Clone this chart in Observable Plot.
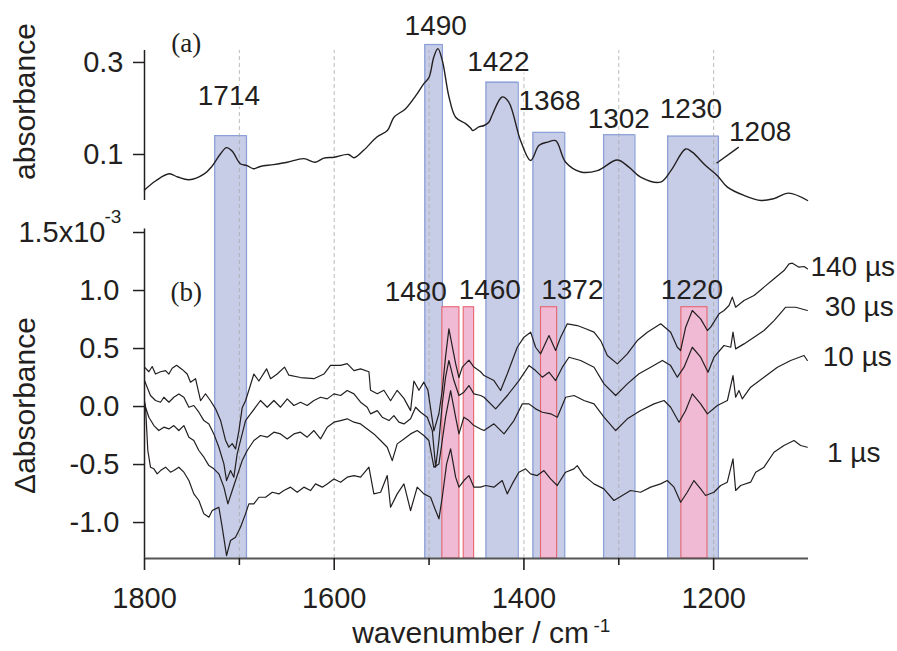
<!DOCTYPE html>
<html><head><meta charset="utf-8">
<script src="https://cdn.jsdelivr.net/npm/d3@7"></script>
<script src="https://cdn.jsdelivr.net/npm/@observablehq/plot@0.6"></script>
<style>
body{margin:0;background:#fff;}
#chart{position:relative;width:897px;height:651px;overflow:hidden;background:#fff;}
#chart svg{position:absolute;left:0;}
</style></head><body><div id="chart"></div>
<script>
// ---------- data ----------
const xDomain = [1800, 1100];
const xMajor = [1800, 1600, 1400, 1200];
const xMinor = [1700, 1500, 1300];
const gridWn = [1700, 1600, 1500, 1400, 1300, 1200];
const yTopTicks = [0.1, 0.3];
const yBotTicks = [1.5, 1.0, 0.5, 0.0, -0.5, -1.0];

// (a) absorbance spectrum
const absWn = [1800,1788,1774,1765,1753,1737,1729,1720,1713.5,1707.5,1699,1692,1685,1678,1664,1649.5,1632,1620,1611,1600,1585,1579,1569,1555,1544,1537,1525,1514,1505.5,1500,1495,1490.7,1486,1479,1472,1461.5,1456,1454,1447.5,1442,1437,1433,1423,1416,1403.5,1393,1384,1375,1366.5,1356,1340,1322.5,1301.5,1289,1277,1256,1245,1229.5,1222.5,1208.5,1196,1185.5,1168,1150,1136.5,1121,1101];
const absVal = [0.023,0.043,0.058,0.051,0.045,0.058,0.074,0.101,0.115,0.107,0.080,0.076,0.069,0.074,0.078,0.083,0.091,0.083,0.092,0.094,0.100,0.093,0.109,0.138,0.152,0.181,0.199,0.228,0.254,0.268,0.312,0.330,0.304,0.225,0.181,0.167,0.157,0.152,0.160,0.163,0.170,0.188,0.225,0.214,0.130,0.087,0.120,0.127,0.130,0.083,0.062,0.065,0.088,0.072,0.051,0.040,0.065,0.112,0.105,0.076,0.054,0.029,0.011,0.000,0.004,0.016,0.000];

// (b) transient difference spectra, [wavenumber, Δabsorbance x1e3]
const trace140 = [[1800,.34],[1795.4,.30],[1791.9,.345],[1788.4,.28],[1783.1,.30],[1777.8,.31],[1774.3,.28],[1770.8,.33],[1766.2,.355],[1760.3,.32],[1755,.28],[1751.5,.21],[1746.2,.24],[1740.9,.05],[1735.7,.11],[1730.4,.05],[1725.1,-.02],[1719.8,-.12],[1714.6,-.29],[1711.1,-.35],[1707.5,-.32],[1704,-.365],[1700.5,-.21],[1697,-.01],[1693.5,.05],[1690,.14],[1684.7,.28],[1679.4,.22],[1671.3,.325],[1667.1,.24],[1660.1,.28],[1652.4,.34],[1647.8,.27],[1635.5,.25],[1621.4,.24],[1610.9,.28],[1603.9,.355],[1593.3,.355],[1586.3,.37],[1579.2,.31],[1572.2,.325],[1563.4,.30],[1561.7,.14],[1554.6,.11],[1547.6,.14],[1540.6,.05],[1533.6,.14],[1526.5,.07],[1519.5,-.035],[1516,.22],[1510.7,.14],[1505.5,.21],[1501.2,.14],[1494.9,-.21],[1489.6,-.06],[1486.1,.14],[1482.6,.43],[1479.1,.67],[1472,.37],[1468.5,.25],[1465,.34],[1458,.40],[1452.7,.34],[1445.7,.30],[1442.1,.267],[1431.6,.224],[1424.6,.138],[1417.5,.282],[1407,.511],[1400,.598],[1392.9,.641],[1387.7,.511],[1382.4,.454],[1373.6,.612],[1366.6,.483],[1361.3,.598],[1354.3,.713],[1343.7,.698],[1334.9,.670],[1326.1,.641],[1319.1,.569],[1312.1,.440],[1301.5,.368],[1291,.454],[1280.5,.569],[1269.9,.641],[1255.8,.713],[1245.3,.641],[1238.3,.511],[1234.8,.483],[1229.5,.684],[1222.5,.828],[1213.7,.756],[1206.6,.655],[1203.1,.684],[1194.3,.799],[1189,.828],[1183.8,.871],[1180.3,.943],[1176.8,.856],[1168,.914],[1157.4,.957],[1146.9,1.029],[1136.3,1.101],[1125.8,1.172],[1120.5,1.23],[1117,1.236],[1110,1.201],[1104.7,1.207],[1101.2,1.187]];
const trace30 = [[1800,.224],[1797.2,.167],[1793.7,.095],[1788.4,.052],[1783.1,.037],[1779.6,.080],[1774.3,.037],[1769.1,.080],[1763.8,.109],[1758.5,.080],[1753.2,-.006],[1748,.009],[1742.7,-.049],[1737.4,-.121],[1732.1,-.150],[1726.9,-.236],[1721.6,-.351],[1716.3,-.494],[1713.5,-.638],[1709.3,-.552],[1705.8,-.609],[1702.3,-.408],[1698.8,-.293],[1693.5,-.121],[1688.2,-.063],[1682.9,-.006],[1677.7,.052],[1670.6,-.006],[1663.6,.052],[1656.6,-.006],[1649.5,.066],[1642.5,.009],[1635.5,.037],[1628.5,.009],[1621.4,.052],[1614.4,.080],[1607.4,.066],[1600.3,.109],[1593.3,.095],[1586.3,.138],[1579.2,.109],[1572.2,.037],[1565.2,-.006],[1561.7,-.063],[1554.6,-.035],[1549.4,-.092],[1542.3,-.121],[1537.1,-.078],[1531.8,-.135],[1526.5,-.150],[1519.5,-.106],[1514.2,-.006],[1508.9,-.049],[1501.9,-.092],[1496.6,-.207],[1493.1,-.523],[1489.6,-.293],[1486.1,.023],[1482.6,.253],[1479.1,.397],[1473.8,.224],[1468.5,.095],[1463.3,.124],[1458,.181],[1452.7,.109],[1445.7,.095],[1442.1,.080],[1429.8,-.020],[1417.5,.095],[1405.2,.224],[1394.7,.353],[1387.7,.310],[1380.6,.253],[1373.6,.296],[1366.6,.224],[1359.5,.339],[1352.5,.425],[1340.2,.397],[1326.1,.339],[1315.6,.195],[1303.3,.095],[1291,.195],[1278.7,.282],[1266.4,.339],[1254,.397],[1245.3,.353],[1238.3,.253],[1231.2,.339],[1222.5,.511],[1213.7,.425],[1205.9,.296],[1199.6,.425],[1189.1,.526],[1182,.511],[1179.6,.641],[1176.8,.497],[1168,.540],[1157.4,.598],[1146.9,.655],[1136.3,.741],[1124,.856],[1113.5,.856],[1101.2,.828]];
const trace10 = [[1800,.03],[1798.9,-.006],[1795.4,-.092],[1790.1,-.164],[1784.9,-.207],[1779.6,-.178],[1774.3,-.193],[1769.1,-.164],[1763.8,-.207],[1758.5,-.164],[1753.2,-.264],[1748,-.293],[1742.7,-.379],[1737.4,-.437],[1732.1,-.509],[1726.9,-.537],[1721.6,-.580],[1716.3,-.695],[1712.1,-.839],[1707.5,-.724],[1704,-.638],[1700.5,-.552],[1697,-.466],[1691.7,-.379],[1684.7,-.293],[1677.7,-.250],[1670.6,-.264],[1663.6,-.221],[1656.6,-.236],[1649.5,-.279],[1642.5,-.236],[1635.5,-.221],[1628.5,-.264],[1621.4,-.207],[1614.4,-.279],[1607.4,-.178],[1600.3,-.135],[1593.3,-.121],[1586.3,-.106],[1579.2,-.135],[1572.2,-.150],[1565.2,-.193],[1558.2,-.236],[1551.1,-.293],[1544.1,-.351],[1538.8,-.466],[1533.6,-.322],[1526.5,-.279],[1519.5,-.236],[1512.5,-.207],[1505.5,-.250],[1500.2,-.293],[1494.9,-.523],[1489.6,-.495],[1486.1,-.293],[1482.6,-.092],[1477.3,.138],[1472,-.092],[1468.5,-.236],[1463.3,-.092],[1458,-.121],[1452.7,-.164],[1445.7,-.193],[1442.1,-.207],[1431.6,-.149],[1421,-.236],[1410.5,-.121],[1401.7,.023],[1394.7,.023],[1387.7,-.020],[1380.6,-.049],[1371.8,-.063],[1364.8,-.092],[1356,.080],[1347.2,.095],[1336.7,.052],[1326.1,.023],[1315.6,-.092],[1303.3,-.207],[1291,-.106],[1276.9,-.034],[1262.9,.023],[1252.3,.052],[1245.3,-.006],[1236.5,-.135],[1229.5,-.034],[1222.5,.109],[1213.7,.023],[1206.6,-.063],[1196.1,.009],[1185.5,.052],[1179.6,.267],[1176.8,.080],[1173.3,.138],[1169.8,.066],[1161,.167],[1146.9,.253],[1132.8,.339],[1118.8,.397],[1104.7,.440],[1101.2,.397]];
const trace1 = [[1800,.05],[1798.9,-.006],[1796.5,-.379],[1793.7,-.523],[1790.1,-.537],[1786.6,-.580],[1783.1,-.552],[1777.8,-.523],[1772.6,-.566],[1769.1,-.552],[1763.8,-.523],[1758.5,-.566],[1753.2,-.638],[1748,-.753],[1742.7,-.810],[1737.4,-.925],[1732.1,-.954],[1728.6,-.897],[1725.1,-.882],[1721.6,-.868],[1718.1,-1.04],[1713.5,-1.285],[1709.3,-1.155],[1704,-1.126],[1698.8,-1.04],[1693.5,-.925],[1690,-.839],[1684.7,-.839],[1679.4,-.782],[1672.4,-.782],[1665.3,-.739],[1658.3,-.753],[1653.1,-.724],[1646,-.695],[1639,-.739],[1632,-.695],[1625,-.724],[1619.7,-.667],[1612.6,-.695],[1607.4,-.667],[1600.3,-.624],[1593.3,-.652],[1586.3,-.609],[1579.2,-.595],[1572.2,-.609],[1563.4,-.523],[1558.2,-.753],[1551.1,-.739],[1544.1,-.595],[1540.6,-.868],[1533.6,-.753],[1526.5,-.667],[1519.5,-.897],[1512.5,-.695],[1505.5,-.753],[1498.4,-.782],[1493.1,-.897],[1489.6,-.968],[1486.1,-.782],[1481.5,-.494],[1477.3,-.365],[1472,-.609],[1468.5,-.695],[1463.3,-.638],[1458,-.595],[1452.7,-.695],[1445.7,-.695],[1440.4,-.681],[1431.7,-.695],[1422.9,-.638],[1417.6,-.753],[1412.3,-.667],[1405.3,-.566],[1398.3,-.537],[1393,-.581],[1386,-.595],[1378.9,-.552],[1371.9,-.624],[1364.9,-.681],[1356.1,-.566],[1347.3,-.537],[1343.8,-.509],[1336.8,-.595],[1326.2,-.667],[1315.7,-.710],[1305.1,-.810],[1296.3,-.767],[1287.6,-.724],[1277,-.739],[1266.4,-.695],[1255.9,-.667],[1248.9,-.638],[1241.8,-.695],[1234.8,-.825],[1227.8,-.739],[1220.8,-.638],[1213.7,-.710],[1208.5,-.767],[1199.7,-.739],[1192.6,-.681],[1185.6,-.652],[1179.6,-.451],[1176.8,-.724],[1171.5,-.681],[1161,-.652],[1155.7,-.566],[1146.9,-.523],[1136.4,-.394],[1125.9,-.336],[1115.3,-.293],[1108.3,-.336],[1101.3,-.351]];
const seriesNames = ["140 µs", "30 µs", "10 µs", "1 µs"];
const seriesLabelWn = [1098, 1083, 1085, 1080.5];
const seriesLabelDA = [1.20, 0.856, 0.425, -0.405];

// highlighted bands
const blueLo = [1726, 1504.5, 1440, 1390.5, 1316, 1248.5];
const blueHi = [1692.5, 1486, 1406, 1357, 1283, 1195];
const blueTop = [0.141, 0.339, 0.257, 0.148, 0.143, 0.140];
const pinkLo = [1486, 1463.5, 1382, 1234];
const pinkHi = [1468, 1452.5, 1365, 1206.5];
const pinkTop = [0.856, 0.856, 0.856, 0.856];

// peak labels
const topPeakText = ["1714", "1490", "1422", "1368", "1302", "1230", "1208"];
const topPeakWn = [1711, 1493, 1427, 1373, 1300, 1224, 1151];
const topPeakAbs = [0.226, 0.380, 0.301, 0.217, 0.177, 0.199, 0.148];
const leaderWn = [1197, 1173.5];
const leaderAbs = [0.081, 0.116];
const botPeakText = ["1480", "1460", "1372", "1220"];
const botPeakWn = [1514, 1436, 1349, 1223];
const botPeakDA = [0.99, 1.0, 1.0, 1.0];
const panelTags = ["(a)", "(b)"];
const panelTagWn = 1756;
const panelTagVal = [0.341, 0.985];

// ---------- build ----------
const sans = "'Liberation Sans', Arial, Helvetica, sans-serif";
const serif = "'Liberation Serif', 'Times New Roman', serif";
const ink = "#231f20";
const blueFill = "#c7cde7", blueEdge = "#8da1d8";
const pinkFill = "#f0bad4", pinkEdge = "#e8646e";
const gridStroke = "#a9a9a9";

const W = 897, ML = 144, MR = 89;
const topH = 200, topMT = 50;
const botH = 451, botMB = 93;
const topYDomain = [0, 0.326];
const botYDomain = [-1.31, 1.776];
const yb0 = botYDomain[0], yb1 = botYDomain[1];

const bands = blueLo.map((lo, i) => ({lo, hi: blueHi[i], top: blueTop[i]}));
const pinks = pinkLo.map((lo, i) => ({lo, hi: pinkHi[i], top: pinkTop[i]}));
const absData = absWn.map((w, i) => ({w, a: absVal[i]}));
const traces = [trace140, trace30, trace10, trace1];
const diffData = traces.flatMap((tr, k) => tr.map(([w, v]) => ({w, v, s: seriesNames[k]})));
const topLabels = topPeakText.map((t, i) => ({t, w: topPeakWn[i], a: topPeakAbs[i]}));
const botLabels = botPeakText.map((t, i) => ({t, w: botPeakWn[i], v: botPeakDA[i]}));
const serLabels = seriesNames.map((t, i) => ({t, w: seriesLabelWn[i], v: seriesLabelDA[i]}));
const fmt = d => (d < 0 ? "-" : "") + Math.abs(d).toFixed(1);

const topPlot = Plot.plot({
  width: W, height: topH, marginTop: topMT, marginBottom: 0, marginLeft: ML, marginRight: MR,
  x: {domain: xDomain, axis: null},
  y: {domain: topYDomain},
  style: {background: "transparent", overflow: "visible", top: "0px", fontFamily: sans},
  marks: [
    Plot.rect(bands, {x1: "lo", x2: "hi", y1: 0, y2: "top", fill: blueFill}),
    Plot.ruleX(bands, {x: "lo", y1: 0, y2: "top", stroke: blueEdge, strokeWidth: 1.3}),
    Plot.ruleX(bands, {x: "hi", y1: 0, y2: "top", stroke: blueEdge, strokeWidth: 1.3}),
    Plot.ruleY(bands, {y: "top", x1: "lo", x2: "hi", stroke: blueEdge, strokeWidth: 1.3}),
    Plot.ruleX(gridWn, {y1: 0, y2: topYDomain[1], stroke: gridStroke, strokeWidth: 0.8, strokeDasharray: "4,3"}),
    Plot.line(absData, {x: "w", y: "a", curve: "catmull-rom", stroke: ink, strokeWidth: 1.4}),
    Plot.link([0], {x1: () => leaderWn[0], x2: () => leaderWn[1], y1: () => leaderAbs[0], y2: () => leaderAbs[1], stroke: ink, strokeWidth: 1.4}),
    Plot.ruleX([xDomain[0]], {y1: 0, y2: topYDomain[1], stroke: ink, strokeWidth: 1.5}),
    Plot.axisY({ticks: yTopTicks, tickSize: 11, tickPadding: 10, tickFormat: fmt, label: null,
      fontSize: 29, fontFamily: sans, color: ink, strokeWidth: 1.5}),
    Plot.text(topLabels, {x: "w", y: "a", text: "t", fontSize: 28, fontFamily: sans, fill: ink,
      stroke: "white", strokeWidth: 3}),
    Plot.text([panelTags[0]], {x: () => panelTagWn, y: () => panelTagVal[0], text: d => d,
      fontSize: 27, fontFamily: serif, fill: ink}),
    Plot.text(["absorbance"], {frameAnchor: "left", textAnchor: "middle", lineAnchor: "middle",
      rotate: -90, dx: -119, dy: -24, text: d => d, fontSize: 30, fontFamily: sans, fill: ink})
  ]
});

const botPlot = Plot.plot({
  width: W, height: botH, marginTop: 0, marginBottom: botMB, marginLeft: ML, marginRight: MR,
  x: {domain: xDomain},
  y: {domain: botYDomain},
  style: {background: "transparent", overflow: "visible", top: "200px", fontFamily: sans},
  marks: [
    Plot.rect(bands, {x1: "lo", x2: "hi", y1: yb0, y2: yb1, fill: blueFill}),
    Plot.ruleX(bands, {x: "lo", y1: yb0, y2: yb1, stroke: blueEdge, strokeWidth: 1.3}),
    Plot.ruleX(bands, {x: "hi", y1: yb0, y2: yb1, stroke: blueEdge, strokeWidth: 1.3}),
    Plot.rect(pinks, {x1: "lo", x2: "hi", y1: yb0, y2: "top", fill: pinkFill, stroke: pinkEdge, strokeWidth: 1.1}),
    Plot.ruleX(gridWn, {y1: yb0, y2: yb1, stroke: gridStroke, strokeWidth: 0.8, strokeDasharray: "4,3"}),
    Plot.line(diffData, {x: "w", y: "v", z: "s", stroke: ink, strokeWidth: 1.2}),
    Plot.ruleX([xDomain[0]], {y1: yb0, y2: 1.53, stroke: ink, strokeWidth: 1.5}),
    Plot.ruleY([yb0], {x1: xDomain[0], x2: xDomain[1], stroke: "#555", strokeWidth: 2}),
    Plot.axisY({ticks: yBotTicks, tickSize: 11, tickPadding: 14, tickFormat: d => d === 1.5 ? "" : fmt(d),
      label: null, fontSize: 29, fontFamily: sans, color: ink, strokeWidth: 1.5}),
    Plot.text(["1.5x10"], {x: () => xDomain[0], y: () => yBotTicks[0], text: d => d, textAnchor: "end",
      dx: -39, fontSize: 29, fontFamily: sans, fill: ink}),
    Plot.text(["-3"], {x: () => xDomain[0], y: () => yBotTicks[0], text: d => d, textAnchor: "start",
      dx: -40, dy: -16, fontSize: 19, fontFamily: sans, fill: ink}),
    Plot.axisX({ticks: xMajor, tickSize: 12, tickPadding: 17, tickFormat: d => String(d), label: null,
      fontSize: 29, fontFamily: sans, color: ink, strokeWidth: 1.6}),
    Plot.axisX({ticks: xMinor, tickSize: 7, tickFormat: () => "", label: null, color: ink, strokeWidth: 1.6}),
    Plot.text(botLabels, {x: "w", y: "v", text: "t", fontSize: 28, fontFamily: sans, fill: ink}),
    Plot.text(serLabels, {x: "w", y: "v", text: "t", textAnchor: "start", fontSize: 28, fontFamily: sans, fill: ink}),
    Plot.text([panelTags[1]], {x: () => panelTagWn, y: () => panelTagVal[1], text: d => d,
      fontSize: 27, fontFamily: serif, fill: ink}),
    Plot.text(["Δabsorbance"], {frameAnchor: "left", textAnchor: "middle", lineAnchor: "middle",
      rotate: -90, dx: -119, dy: 26, text: d => d, fontSize: 30, fontFamily: sans, fill: ink}),
    Plot.text(["wavenumber / cm"], {frameAnchor: "bottom", textAnchor: "middle", lineAnchor: "middle",
      dx: -6, dy: 75, text: d => d, fontSize: 30, fontFamily: sans, fill: ink}),
    Plot.text(["-1"], {frameAnchor: "bottom", textAnchor: "start", lineAnchor: "middle",
      dx: 117, dy: 67, text: d => d, fontSize: 19, fontFamily: sans, fill: ink})
  ]
});

const chart = document.getElementById("chart");
chart.appendChild(topPlot);
chart.appendChild(botPlot);
</script>
</body></html>
